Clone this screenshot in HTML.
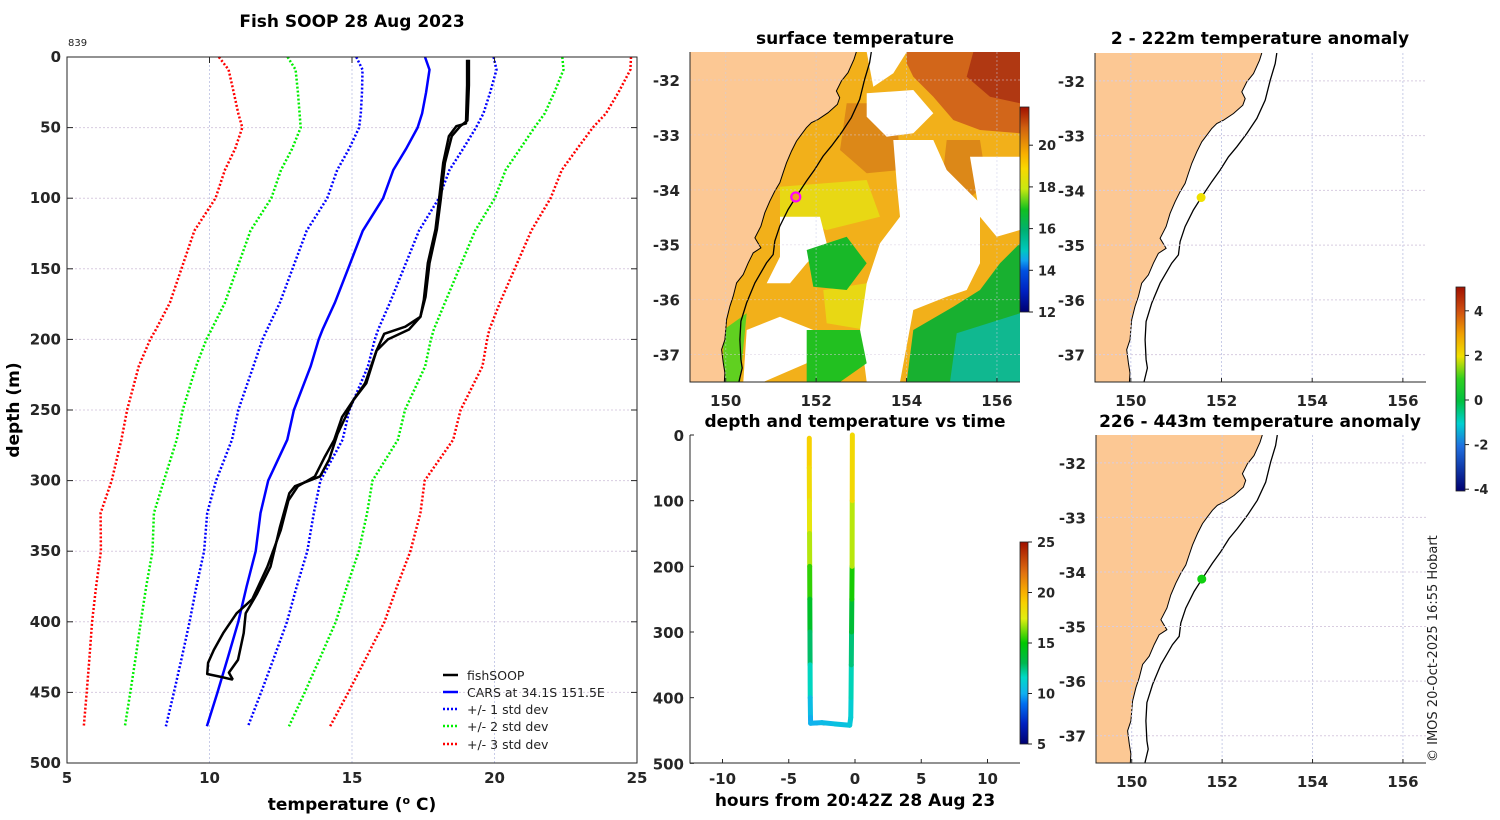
<!DOCTYPE html>
<html><head><meta charset="utf-8"><style>
html,body{margin:0;padding:0;background:#fff;}
svg{display:block;font-family:"DejaVu Sans","Liberation Sans",sans-serif;}
.tk{font-weight:bold;font-size:15px;fill:#262626;}
.ttl{font-weight:bold;font-size:17px;fill:#000;}
.cb{font-weight:bold;font-size:13px;fill:#262626;}
</style></head><body>
<svg id="fig" width="1500" height="820" viewBox="0 0 1500 820">
<defs>
<linearGradient id="gSST" x1="0" y1="1" x2="0" y2="0">
<stop offset="0" stop-color="#000070"/><stop offset="0.1" stop-color="#0020c0"/><stop offset="0.2" stop-color="#0050e0"/><stop offset="0.25" stop-color="#10a0f0"/><stop offset="0.3" stop-color="#00c8c0"/><stop offset="0.4" stop-color="#00b070"/><stop offset="0.5" stop-color="#10c020"/><stop offset="0.6" stop-color="#c8e810"/><stop offset="0.7" stop-color="#f8d800"/><stop offset="0.77" stop-color="#f8b000"/><stop offset="0.9" stop-color="#d06010"/><stop offset="1" stop-color="#a01000"/>
</linearGradient>
<linearGradient id="gTS" x1="0" y1="1" x2="0" y2="0">
<stop offset="0" stop-color="#000070"/><stop offset="0.1" stop-color="#0020c0"/><stop offset="0.2" stop-color="#0070f0"/><stop offset="0.25" stop-color="#10b0f0"/><stop offset="0.33" stop-color="#00d8c8"/><stop offset="0.4" stop-color="#00b850"/><stop offset="0.5" stop-color="#00c800"/><stop offset="0.62" stop-color="#e0ee10"/><stop offset="0.7" stop-color="#f8d000"/><stop offset="0.75" stop-color="#f8b000"/><stop offset="0.85" stop-color="#e07010"/><stop offset="1" stop-color="#a01000"/>
</linearGradient>
<linearGradient id="gAN" x1="0" y1="1" x2="0" y2="0">
<stop offset="0" stop-color="#000070"/><stop offset="0.22" stop-color="#2070e0"/><stop offset="0.33" stop-color="#00d0d0"/><stop offset="0.44" stop-color="#00c040"/><stop offset="0.55" stop-color="#30d020"/><stop offset="0.66" stop-color="#f0e000"/><stop offset="0.77" stop-color="#f0a000"/><stop offset="0.88" stop-color="#d05010"/><stop offset="1" stop-color="#a01000"/>
</linearGradient>
<clipPath id="clipM1"><rect x="690" y="52" width="330" height="330"/></clipPath>
<clipPath id="clipM2"><rect x="1095" y="53" width="331" height="329"/></clipPath>
<clipPath id="clipM3"><rect x="1096" y="435" width="330" height="328"/></clipPath>
</defs>

<text class="ttl" x="352" y="27" text-anchor="middle">Fish SOOP 28 Aug 2023</text>
<text x="68" y="46" font-size="10" fill="#222">839</text>
<g id="mainGrid"></g>
<g id="mainMarks"></g>
<rect x="67" y="57" width="570" height="706" fill="none" stroke="#262626" stroke-width="1"/>
<g id="mainTicks"></g>
<text class="ttl" x="352" y="810" text-anchor="middle">temperature (<tspan font-size="11" dy="-6">o</tspan><tspan dy="6"> C)</tspan></text>
<text class="ttl" transform="translate(19,410) rotate(-90)" text-anchor="middle">depth (m)</text>
<g id="legend" font-size="12.5" fill="#222">
<line x1="443" y1="675" x2="458" y2="675" stroke="#000" stroke-width="2.5"/><text x="467" y="680">fishSOOP</text>
<line x1="443" y1="692" x2="458" y2="692" stroke="#0000ff" stroke-width="2.5"/><text x="467" y="697">CARS at 34.1S 151.5E</text>
<line x1="443" y1="709" x2="458" y2="709" stroke="#0000ff" stroke-width="2.5" stroke-dasharray="2 2"/><text x="467" y="714">+/- 1 std dev</text>
<line x1="443" y1="726" x2="458" y2="726" stroke="#00ee00" stroke-width="2.5" stroke-dasharray="2 2"/><text x="467" y="731">+/- 2 std dev</text>
<line x1="443" y1="744" x2="458" y2="744" stroke="#ff0000" stroke-width="2.5" stroke-dasharray="2 2"/><text x="467" y="749">+/- 3 std dev</text>
</g>

<text class="ttl" x="855" y="44" text-anchor="middle">surface temperature</text>
<text class="ttl" x="1260" y="44" text-anchor="middle">2 - 222m temperature anomaly</text>
<text class="ttl" x="1260" y="427" text-anchor="middle">226 - 443m temperature anomaly</text>
<text class="ttl" x="855" y="427" text-anchor="middle">depth and temperature vs time</text>

<g id="map1"></g>
<g id="map2"></g>
<g id="map3"></g>

<rect x="1020" y="107" width="9" height="205" fill="url(#gSST)" stroke="#222" stroke-width="0.8"/>
<g id="cb1"></g>
<rect x="1456" y="287" width="9" height="204" fill="url(#gAN)" stroke="#222" stroke-width="0.8"/>
<g id="cb2"></g>
<rect x="1020" y="542" width="8" height="202" fill="url(#gTS)" stroke="#222" stroke-width="0.8"/>
<g id="cb3"></g>

<g id="tplot"></g>
<text class="ttl" x="855" y="806" text-anchor="middle">hours from 20:42Z 28 Aug 23</text>

<text font-size="13" fill="#222" transform="translate(1437,762) rotate(-90)">© IMOS 20-Oct-2025 16:55 Hobart</text>
</svg>
<script>
// ---- profile data ----
const carsDepth = [0,9,25,40,50,65,80,100,123,149,174,193,200,219,250,271,300,323,350,375,400,425,450,474];
const carsMean = [17.56,17.72,17.6,17.46,17.3,16.9,16.45,16.09,15.38,14.88,14.4,13.97,13.83,13.55,12.96,12.73,12.06,11.79,11.62,11.3,11.01,10.65,10.28,9.91];
const carsStd = [2.41,2.35,2.25,2.15,2.05,2.0,1.97,1.96,1.97,1.95,1.93,1.95,1.97,2.01,1.95,1.94,1.83,1.87,1.81,1.76,1.71,1.62,1.53,1.44];
const downDepth = [2,20,47,49,56,75,100,122,146,172,184,191,196,208,231,243,255,271,283,297,304,314,335,361,384,394,408,420,429,437,439,441];
const downTemp = [19.04,19.04,19.0,18.66,18.4,18.2,18.06,17.93,17.66,17.52,17.4,16.87,16.13,15.86,15.46,15.05,14.65,14.38,14.05,13.7,13.1,12.77,12.5,12.03,11.5,10.95,10.48,10.15,9.95,9.92,10.4,10.82];
const upDepth = [441,436,427,408,394,380,361,333,309,304,297,285,267,243,231,208,200,193,184,170,146,122,100,75,56,49,45,20,2];
const upTemp = [10.82,10.68,11.0,11.2,11.27,11.67,12.14,12.47,12.8,13.0,13.88,14.2,14.49,15.05,15.5,15.86,16.26,17.0,17.4,17.58,17.72,17.98,18.12,18.26,18.5,18.8,19.05,19.1,19.1];
const xTicks = [5,10,15,20,25];
const yTicks = [0,50,100,150,200,250,300,350,400,450,500];
// ---- time plot data ----
const tsTime = [-3.45,-3.45,-3.44,-3.43,-3.42,-3.41,-3.40,-3.39,-3.38,-3.36,-3.35,-2.5,-1.5,-0.4,-0.32,-0.30,-0.28,-0.26,-0.24,-0.22,-0.21,-0.2];
const tsDepth = [5,50,100,150,200,250,300,350,400,430,439,438,440,442,430,400,350,300,250,200,100,0];
const tsTemp = [19.0,18.9,18.06,17.7,16.3,14.8,13.2,12.2,11.0,10.0,9.9,10.3,10.5,10.8,11.0,11.2,12.2,12.8,14.5,16.0,18.1,19.1];
const tTicks = [-10,-5,0,5,10];
const tdTicks = [0,100,200,300,400,500];
// ---- map positions ----
const castLon = [151.55];
const castLat = [-34.13];

const NS = 'http://www.w3.org/2000/svg';
function mk(tag, attrs, parent){const e=document.createElementNS(NS,tag);for(const k in attrs)e.setAttribute(k,attrs[k]);parent.appendChild(e);return e;}
const X = t => 67 + (t-5)*28.5;
const Y = d => 57 + d*1.412;

const grid = document.getElementById('mainGrid');
xTicks.slice(1,-1).forEach(t=>{const l=mk('line',{x1:X(t),x2:X(t),y1:57,y2:763,stroke:'#c8cce8','stroke-width':1,'stroke-dasharray':'2 2'},grid);

});
yTicks.slice(1,-1).forEach(d=>{const l=mk('line',{x1:67,x2:637,y1:Y(d),y2:Y(d),stroke:'#d8cce0','stroke-width':1,'stroke-dasharray':'2 2'},grid);

});

const ticks = document.getElementById('mainTicks');
xTicks.forEach(t=>{
 const a=mk('line',{x1:X(t),x2:X(t),y1:57,y2:63,stroke:'#262626'},ticks);
 
 
 const tx=mk('text',{x:X(t),y:783,'text-anchor':'middle',class:'tk'},ticks);tx.textContent=t;
 
 
});
yTicks.forEach(d=>{
 const a=mk('line',{x1:67,x2:73,y1:Y(d),y2:Y(d),stroke:'#262626'},ticks);
 
 
 const b=mk('line',{x1:631,x2:637,y1:Y(d),y2:Y(d),stroke:'#262626'},ticks);
 
 
 const tx=mk('text',{x:61,y:Y(d)+5,'text-anchor':'end',class:'tk'},ticks);tx.textContent=d;
 
 
});

const marks = document.getElementById('mainMarks');
function pts(temps, depths){return temps.map((t,i)=>X(t).toFixed(1)+','+Y(depths[i]).toFixed(1)).join(' ');}
const stdCols = {1:'#0000ff',2:'#00ee00',3:'#ff0000'};
[3,2,1].forEach(k=>{[-1,1].forEach(s=>{
 const vals = carsMean.map((m,i)=>m + s*k*carsStd[i]);
 const p=mk('polyline',{points:pts(vals,carsDepth),fill:'none',stroke:stdCols[k],'stroke-width':2.5,'stroke-dasharray':'2 2'},marks);
 
 
});});
const mline=mk('polyline',{points:pts(carsMean,carsDepth),fill:'none',stroke:'#0000ff','stroke-width':2.5},marks);


const dl=mk('polyline',{points:pts(downTemp,downDepth),fill:'none',stroke:'#000','stroke-width':2.5,'stroke-linejoin':'round'},marks);


const ul=mk('polyline',{points:pts(upTemp,upDepth),fill:'none',stroke:'#000','stroke-width':2.5,'stroke-linejoin':'round'},marks);



// ---- maps ----
const LON0=149.21, LON1=156.51, LAT0=-31.49, LAT1=-37.5;
const coastZ=[[605,98],[598,120],[580,160],[560,185],[545,215],[555,235],[548,255],[520,280],[490,300],[470,310],[455,325],[440,345],[425,365],[410,395],[395,430],[385,460],[375,490],[360,515],[345,545],[330,580],[318,620],[300,655],[318,685],[295,700],[280,730],[265,765],[245,790],[235,830],[225,860],[215,900],[210,960],[200,990],[205,1030],[210,1060],[208,1087]];
const shelfZ=[[650,98],[645,130],[630,180],[615,240],[590,295],[560,340],[530,380],[505,410],[480,450],[455,485],[425,530],[400,570],[375,620],[360,665],[355,705],[335,730],[300,790],[275,850],[258,905],[255,960],[258,1020],[262,1045],[252,1087]];
const fz = p=>[(p[0]-105)/992,(p[1]-98)/989];
function drawMap(gid, bx, by, bw, bh, clip, kind){
 const g=document.getElementById(gid);
 const P=f=>(bx+f[0]*bw).toFixed(1)+','+(by+f[1]*bh).toFixed(1);
 const LX=lon=>bx+(lon-LON0)/(LON1-LON0)*bw, LY=lat=>by+(LAT0-lat)/(LAT0-LAT1)*bh;
 const inner=mk('g',{'clip-path':'url(#'+clip+')'},g);
 
 
 if(kind==='sst'){
  const F=p=>(bx+(p[0]-30)/990*bw).toFixed(1)+','+(by+(p[1]-66)/990*bh).toFixed(1);
  const patches=[
   ['#f2b01a',[[30,66],[1020,66],[1020,1056],[30,1056]]],
   ['#d2661a',[[680,66],[1020,66],[1020,310],[900,300],[820,270],[760,200],[700,140],[680,100]]],
   ['#b03812',[[880,66],[1020,66],[1020,220],[930,200],[860,140]]],
   ['#dc8818',[[500,220],[650,220],[660,420],[560,430],[480,360]]],
   ['#dc8818',[[800,330],[900,330],[920,460],[850,520],[790,420]]],
   ['#e8d814',[[300,470],[560,450],[600,560],[440,600],[300,560]]],
   ['#e8d814',[[430,780],[560,760],[560,900],[440,880]]],
   ['#ffffff',[[560,66],[680,66],[640,130],[580,170]]],
   ['#ffffff',[[560,190],[700,180],[760,250],[700,310],[620,320],[560,260]]],
   ['#ffffff',[[640,330],[760,330],[800,420],[900,520],[900,700],[860,780],[800,800],[700,840],[660,1056],[560,1056],[540,900],[560,760],[600,640],[660,560],[650,460]]],
   ['#ffffff',[[300,560],[420,560],[440,640],[380,700],[330,760],[260,760],[300,680]]],
   ['#ffffff',[[200,900],[300,860],[400,900],[380,1000],[250,1056],[190,1056]]],
   ['#ffffff',[[870,380],[1020,380],[1020,600],[950,620],[900,560]]],
   ['#ffffff',[[720,590],[800,580],[820,680],[760,720]]],
   ['#18b828',[[380,660],[500,620],[560,700],[500,780],[400,770]]],
   ['#22c020',[[380,900],[540,900],[560,1000],[480,1056],[380,1056]]],
   ['#18b030',[[680,1056],[700,900],[820,830],[900,780],[960,700],[1020,640],[1020,1056]]],
   ['#10b890',[[830,910],[1020,850],[1020,1056],[810,1056]]],
   ['#60d020',[[130,900],[200,850],[180,1056],[130,1056]]]
  ];
  patches.forEach(pp=>{const e=mk('polygon',{points:pp[1].map(F).join(' '),fill:pp[0]},inner);
   
   });
 }
 const land=[...coastZ.map(fz),[0,1],[0,0]];
 const lp=mk('polygon',{points:land.map(P).join(' '),fill:'#fcc894',stroke:'none'},inner);
 
 
 const cl=mk('polyline',{points:coastZ.map(fz).map(P).join(' '),fill:'none',stroke:'#000','stroke-width':1},inner);
 
 
 const sl=mk('polyline',{points:shelfZ.map(fz).map(P).join(' '),fill:'none',stroke:'#000','stroke-width':1.3},inner);
 
 
 [150,152,154,156].forEach(lon=>{
  const l=mk('line',{x1:LX(lon),x2:LX(lon),y1:by,y2:by+bh,stroke:'#c8cce8','stroke-dasharray':'2 2',opacity:kind==='sst'?0.5:1},inner);
  
  
  const t=mk('line',{x1:LX(lon),x2:LX(lon),y1:by+bh,y2:by+bh-4,stroke:'#262626'},g);
  
  
  const tx=mk('text',{x:LX(lon),y:by+bh+24,'text-anchor':'middle',class:'tk'},g);tx.textContent=lon;
  
  
 });
 [-32,-33,-34,-35,-36,-37].forEach(lat=>{
  const l=mk('line',{x1:bx,x2:bx+bw,y1:LY(lat),y2:LY(lat),stroke:'#d8cce0','stroke-dasharray':'2 2',opacity:kind==='sst'?0.5:1},inner);
  
  
  const tx=mk('text',{x:bx-10,y:LY(lat)+6,'text-anchor':'end',class:'tk'},g);tx.textContent=lat;
  
  
 });
 const ax=mk('polyline',{points:`${bx},${by} ${bx},${by+bh} ${bx+bw},${by+bh}`,fill:'none',stroke:'#262626'},g);
 
 
 castLon.forEach((lon,i)=>{
  let c;
  if(kind==='sst') c=mk('circle',{cx:LX(lon),cy:LY(castLat[i]),r:4.5,fill:'#f0a020',stroke:'#ff00ff','stroke-width':2.2},g);
  else c=mk('circle',{cx:LX(lon),cy:LY(castLat[i]),r:4.5,fill:kind==='up'?'#f0e000':'#10d010'},g);
  
  
 });
}
drawMap('map1',690,52,330,330,'clipM1','sst');
drawMap('map2',1095,53,331,329,'clipM2','up');
drawMap('map3',1096,435,330,328,'clipM3','low');

function cbTicks(gid,x,vals,yf){const g=document.getElementById(gid);vals.forEach(v=>{
 const l=mk('line',{x1:x,x2:x+4,y1:yf(v),y2:yf(v),stroke:'#222'},g);
 
 
 const t=mk('text',{x:x+9,y:yf(v)+5,class:'cb'},g);t.textContent=v;
 
 });}
cbTicks('cb1',1029,[12,14,16,18,20],v=>312-(v-12)*20.85);
cbTicks('cb2',1465,[-4,-2,0,2,4],v=>400-v*22.3);
cbTicks('cb3',1028,[5,10,15,20,25],v=>744-(v-5)*10.1);

// ---- time plot ----
const TX=t=>855+t*13.25, TY=d=>435+d*0.6567;
const tp=document.getElementById('tplot');
function tcol(v){const st=[[5,[0,0,112]],[7,[0,32,192]],[9,[0,112,240]],[10,[16,176,240]],[11.5,[0,216,200]],[13,[0,184,80]],[15,[0,200,0]],[17.5,[224,238,16]],[19,[248,208,0]],[20,[248,176,0]],[22,[224,112,16]],[25,[160,16,0]]];
 if(v<=st[0][0])return 'rgb('+st[0][1]+')';
 for(let i=1;i<st.length;i++){if(v<=st[i][0]){const a=st[i-1],b=st[i],f=(v-a[0])/(b[0]-a[0]);return 'rgb('+a[1].map((c,j)=>Math.round(c+(b[1][j]-c)*f)).join(',')+')';}}
 return 'rgb(160,16,0)';}
const bl=mk('line',{x1:TX(-3.35),x2:TX(-0.35),y1:TY(441),y2:TY(441),stroke:'#000','stroke-width':1.3,'stroke-dasharray':'7 5'},tp);


for(let i=0;i<tsTime.length-1;i++){
 const s=mk('line',{x1:TX(tsTime[i]),y1:TY(tsDepth[i]),x2:TX(tsTime[i+1]),y2:TY(tsDepth[i+1]),stroke:tcol((tsTemp[i]+tsTemp[i+1])/2),'stroke-width':5,'stroke-linecap':'round'},tp);
 
 
}
const tax=mk('polyline',{points:'690,435 690,763 1020,763',fill:'none',stroke:'#262626'},tp);


tTicks.forEach(t=>{
 const l=mk('line',{x1:TX(t),x2:TX(t),y1:763,y2:759,stroke:'#262626'},tp);
 
 
 const tx=mk('text',{x:TX(t),y:784,'text-anchor':'middle',class:'tk'},tp);tx.textContent=t;
 
 
});
tdTicks.forEach(d=>{
 const l=mk('line',{x1:690,x2:694,y1:TY(d),y2:TY(d),stroke:'#262626'},tp);
 
 
 const tx=mk('text',{x:684,y:TY(d)+6,'text-anchor':'end',class:'tk'},tp);tx.textContent=d;
 
 
});
</script>
</body></html>
